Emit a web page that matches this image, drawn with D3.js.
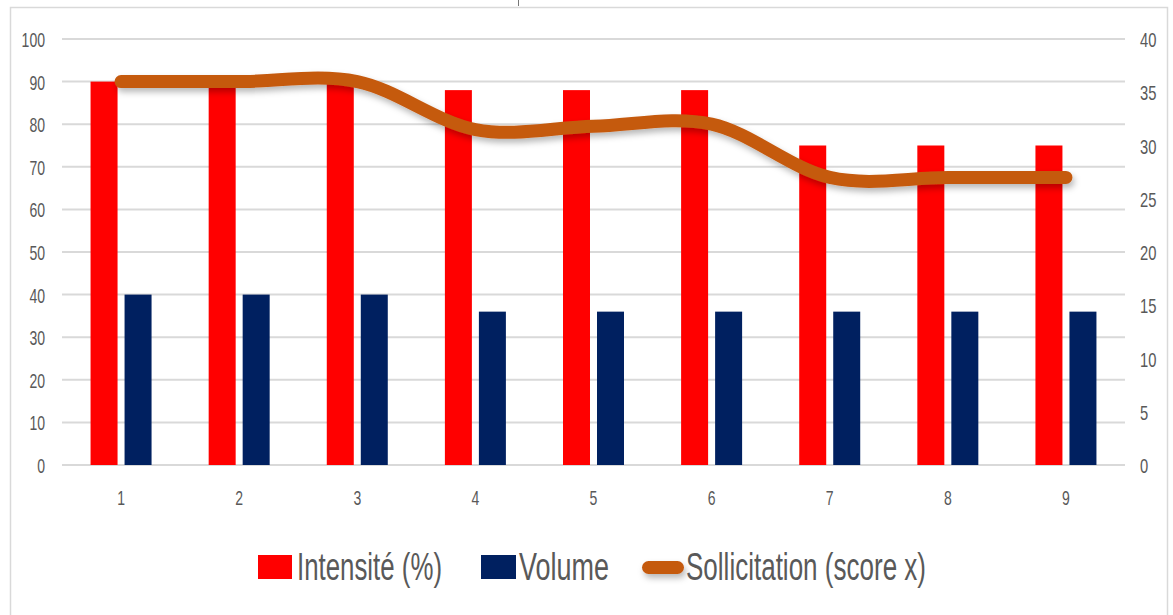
<!DOCTYPE html>
<html>
<head>
<meta charset="utf-8">
<script src="https://cdn.jsdelivr.net/npm/d3@7"></script>
<style>
  html, body { margin: 0; padding: 0; background: #ffffff; }
  svg { display: block; }
</style>
</head>
<body>
<svg id="chart" width="1173" height="615"></svg>
<script>
// ---- data ----
const categories = ["1", "2", "3", "4", "5", "6", "7", "8", "9"];
const intensite = [90, 90, 90, 88, 88, 88, 75, 75, 75];
const volume = [40, 40, 40, 36, 36, 36, 36, 36, 36];
const sollicitation = [36, 36, 36, 31.5, 31.8, 32, 27, 27, 27];
const leftTicks = [0, 10, 20, 30, 40, 50, 60, 70, 80, 90, 100];
const rightTicks = [0, 5, 10, 15, 20, 25, 30, 35, 40];
const seriesNames = ["Intensité (%)", "Volume", "Sollicitation (score x)"];

// ---- layout ----
const plot = { left: 62, right: 1125, top: 39, bottom: 465 };
const txtColor = "#595959";
const gridColor = "#d9d9d9";
const colors = { int: "#FF0000", vol: "#002060", sol: "#C55A11" };

const svg = d3.select("#chart");

const defs = svg.append("defs");
const f = defs.append("filter").attr("id", "shadow")
  .attr("filterUnits", "userSpaceOnUse")
  .attr("x", 0).attr("y", 0).attr("width", 1173).attr("height", 615);
f.append("feDropShadow").attr("dx", 2).attr("dy", 4).attr("stdDeviation", 3)
  .attr("flood-color", "#000").attr("flood-opacity", 0.28);

// frame
svg.append("rect").attr("x", 10.5).attr("y", 7.5).attr("width", 1157).attr("height", 660)
  .attr("fill", "#fff").attr("stroke", gridColor).attr("stroke-width", 1.5);
// small artifact tick at top
svg.append("line").attr("x1", 518.5).attr("x2", 518.5).attr("y1", 0).attr("y2", 6)
  .attr("stroke", "#777").attr("stroke-width", 1);

// scales
const x = d3.scaleBand().domain(categories).range([plot.left, plot.right]).padding(0);
const xSub = d3.scaleBand().domain(["int", "vol"]).range([0, 61]).paddingInner(0.206).paddingOuter(0);
const yL = d3.scaleLinear().domain([0, 100]).range([plot.bottom, plot.top]);
const yR = d3.scaleLinear().domain([0, 40]).range([plot.bottom, plot.top]);

// gridlines
svg.append("g").selectAll("line").data(leftTicks).join("line")
  .attr("x1", plot.left).attr("x2", plot.right)
  .attr("y1", d => yL(d)).attr("y2", d => yL(d))
  .attr("stroke", gridColor).attr("stroke-width", 2);

function styleTicks(g, perChar) {
  g.select(".domain").remove();
  g.selectAll(".tick line").remove();
  g.selectAll(".tick text")
    .attr("fill", txtColor)
    .attr("font-family", "'Liberation Sans', Arial, sans-serif")
    .attr("font-size", 21)
    .attr("lengthAdjust", "spacingAndGlyphs")
    .attr("textLength", function() { return this.textContent.length * perChar; });
}

// left axis
svg.append("g").attr("transform", "translate(45,0)")
  .call(d3.axisLeft(yL).tickValues(leftTicks).tickSize(0).tickPadding(0))
  .call(g => styleTicks(g, 7.8))
  .selectAll(".tick text").attr("dy", "0.36em");

// right axis
svg.append("g").attr("transform", "translate(1140,0)")
  .call(d3.axisRight(yR).tickValues(rightTicks).tickSize(0).tickPadding(0))
  .call(g => styleTicks(g, 8.2))
  .selectAll(".tick text").attr("dy", "0.36em");

// x axis
svg.append("g").attr("transform", `translate(0,${plot.bottom})`)
  .call(d3.axisBottom(x).tickSize(0).tickPadding(0))
  .call(g => styleTicks(g, 7.8))
  .selectAll(".tick text").attr("y", 40).attr("dy", 0);

// bars
const groupStart = c => x(c) + x.bandwidth() / 2 - 30.5;
svg.append("g").selectAll("rect").data(categories).join("rect")
  .attr("x", c => groupStart(c) + xSub("int"))
  .attr("width", xSub.bandwidth())
  .attr("y", (c, i) => yL(intensite[i]))
  .attr("height", (c, i) => yL(0) - yL(intensite[i]))
  .attr("fill", colors.int);
svg.append("g").selectAll("rect").data(categories).join("rect")
  .attr("x", c => groupStart(c) + xSub("vol"))
  .attr("width", xSub.bandwidth())
  .attr("y", (c, i) => yL(volume[i]))
  .attr("height", (c, i) => yL(0) - yL(volume[i]))
  .attr("fill", colors.vol);

// line
const line = d3.line()
  .x((d, i) => x(categories[i]) + x.bandwidth() / 2)
  .y(d => yR(d))
  .curve(d3.curveCatmullRom.alpha(0));
svg.append("path").datum(sollicitation)
  .attr("d", line)
  .attr("fill", "none")
  .attr("stroke", colors.sol)
  .attr("stroke-width", 13)
  .attr("stroke-linecap", "round")
  .attr("stroke-linejoin", "round")
  .attr("filter", "url(#shadow)");

// legend
const lg = svg.append("g");
const legFont = "'Liberation Sans', Arial, sans-serif";
// Intensité
lg.append("rect").attr("x", 258).attr("y", 555).attr("width", 34).attr("height", 24).attr("fill", colors.int);
lg.append("text").attr("x", 297).attr("y", 580).text(seriesNames[0])
  .attr("font-family", legFont).attr("font-size", 38).attr("fill", txtColor)
  .attr("lengthAdjust", "spacingAndGlyphs").attr("textLength", 145);
// Volume
lg.append("rect").attr("x", 481).attr("y", 555).attr("width", 35).attr("height", 24).attr("fill", colors.vol);
lg.append("text").attr("x", 519).attr("y", 580).text(seriesNames[1])
  .attr("font-family", legFont).attr("font-size", 38).attr("fill", txtColor)
  .attr("lengthAdjust", "spacingAndGlyphs").attr("textLength", 90);
// Sollicitation
lg.append("rect").attr("x", 642).attr("y", 561).attr("width", 42).attr("height", 13).attr("rx", 6.5)
  .attr("fill", colors.sol).attr("filter", "url(#shadow)");
lg.append("text").attr("x", 686).attr("y", 580).text(seriesNames[2])
  .attr("font-family", legFont).attr("font-size", 38).attr("fill", txtColor)
  .attr("lengthAdjust", "spacingAndGlyphs").attr("textLength", 240);
</script>
</body>
</html>
